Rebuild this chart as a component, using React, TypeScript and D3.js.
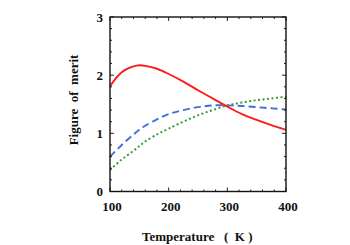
import React from "react";
import * as d3 from "d3";

// temperature samples (K) and the three figure-of-merit series
const temps = [100, 120, 140, 150, 160, 180, 200, 225, 250, 275, 300, 325, 350, 375, 400];
const redSeries = [1.81, 2.05, 2.15, 2.17, 2.16, 2.11, 2.02, 1.89, 1.74, 1.60, 1.46, 1.33, 1.23, 1.14, 1.06];
const blueSeries = [0.60, 0.80, 0.98, 1.06, 1.13, 1.24, 1.33, 1.40, 1.45, 1.48, 1.48, 1.47, 1.45, 1.43, 1.41];
const greenSeries = [0.37, 0.55, 0.70, 0.78, 0.86, 0.98, 1.08, 1.20, 1.31, 1.40, 1.48, 1.53, 1.57, 1.60, 1.63];

const xTicks = [100, 200, 300, 400];
const yTicks = [0, 1, 2, 3];

const font = "'Liberation Serif', 'Times New Roman', serif";

export default function App() {
  const width = 350;
  const height = 245;
  const left = 110, right = 286, top = 17, bottom = 191.5;

  const x = d3.scaleLinear().domain([100, 400]).range([left, right]);
  const y = d3.scaleLinear().domain([0, 3]).range([bottom, top]);

  const line = (vals: number[]) =>
    d3.line<number>()
      .x((d, i) => x(temps[i]))
      .y(d => y(d))
      .curve(d3.curveCatmullRom)(vals) || "";

  const xMinor = d3.range(100, 401, 20);
  const yMinor = d3.range(0, 3.001, 0.2);

  const series = [
    { vals: greenSeries, color: "#2e9a2e", dash: "2,2.5" },
    { vals: blueSeries, color: "#3f6fdc", dash: "7,4" },
    { vals: redSeries, color: "#ff1a1a", dash: "" },
  ];

  return (
    <svg width={width} height={height} style={{ position: "absolute", left: 0, top: 0 }}>
      <rect width={width} height={height} fill="white" />
      <g>
        {series.map((s, i) => (
          <path key={i} d={line(s.vals)} fill="none" stroke={s.color}
            strokeWidth={1.9} strokeDasharray={s.dash || undefined} />
        ))}
      </g>
      <g stroke="#222" strokeWidth={1}>
        {xMinor.map(t => {
          const major = t % 100 === 0;
          const len = major ? 4 : 2;
          return (
            <g key={"x" + t}>
              <line x1={x(t)} x2={x(t)} y1={bottom} y2={bottom - len} />
              <line x1={x(t)} x2={x(t)} y1={top} y2={top + len} />
            </g>
          );
        })}
        {yMinor.map((v, i) => {
          const major = i % 5 === 0;
          const len = major ? 4 : 2;
          return (
            <g key={"y" + i}>
              <line x1={left} x2={left + len} y1={y(v)} y2={y(v)} />
              <line x1={right} x2={right - len} y1={y(v)} y2={y(v)} />
            </g>
          );
        })}
      </g>
      <rect x={left} y={top} width={right - left} height={bottom - top}
        fill="none" stroke="#111" strokeWidth={1.4} />
      <g fontFamily={font} fontWeight="bold" fontSize={13} fill="#111">
        {xTicks.map(t => (
          <text key={t} x={x(t) + 2} y={211} textAnchor="middle">{t}</text>
        ))}
        {yTicks.map(v => (
          <text key={v} x={103} y={y(v) + 4.5} textAnchor="end">{v}</text>
        ))}
        <text x={142} y={240.5} style={{ whiteSpace: "pre" }}>
          {"Temperature   (  K )"}
        </text>
        <text transform={`translate(78,100) rotate(-90)`}
          textAnchor="middle" style={{ whiteSpace: "pre" }}>
          {"Figure  of  merit"}
        </text>
      </g>
    </svg>
  );
}
